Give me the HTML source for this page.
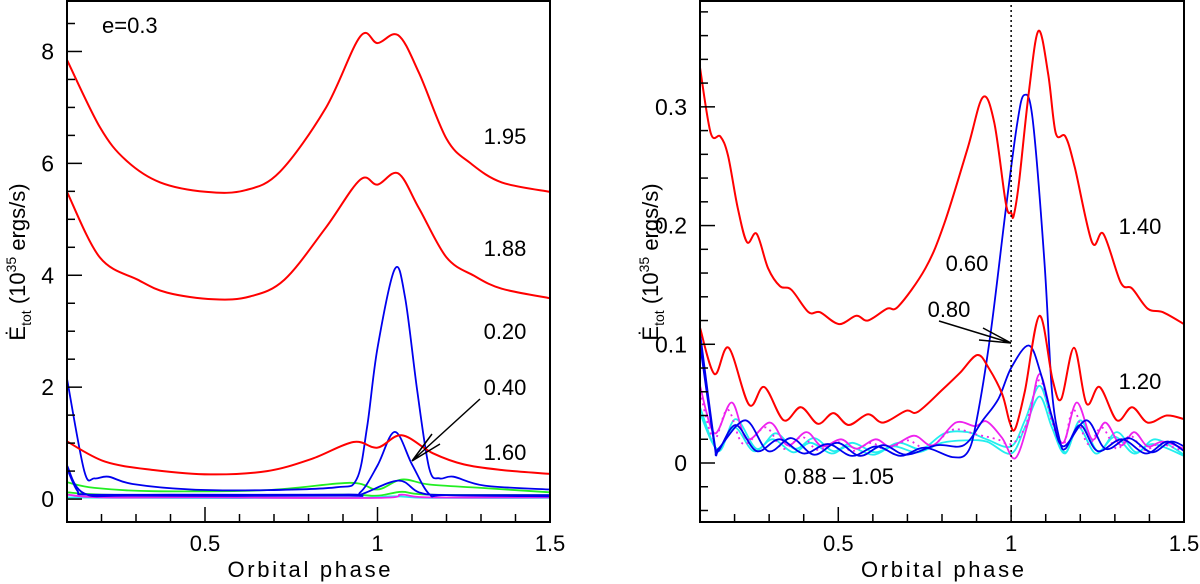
<!DOCTYPE html>
<html><head><meta charset="utf-8"><style>
html,body{margin:0;padding:0;background:#fff;width:1200px;height:584px;overflow:hidden}
svg{display:block;font-family:"Liberation Sans",sans-serif}
</style></head><body>
<svg id="chart" width="1200" height="584" viewBox="0 0 1200 584" xmlns="http://www.w3.org/2000/svg"></svg>
<script>
// ---- Left panel data (phase, Edot) ----
const L_p195 = [[0.1,7.85],[0.195,6.65],[0.27,6.06],[0.37,5.66],[0.505,5.49],[0.617,5.52],[0.717,5.85],[0.85,6.99],[0.95,8.27],[1.0,8.15],[1.06,8.29],[1.12,7.62],[1.2,6.44],[1.27,6.0],[1.36,5.66],[1.5,5.49]];
const L_p188 = [[0.1,5.49],[0.195,4.32],[0.305,3.92],[0.39,3.69],[0.525,3.57],[0.63,3.62],[0.73,3.92],[0.85,4.85],[0.95,5.71],[1.0,5.62],[1.06,5.82],[1.12,5.2],[1.2,4.32],[1.28,3.99],[1.36,3.76],[1.5,3.59]];
const L_p160 = [[0.1,1.03],[0.21,0.67],[0.35,0.52],[0.515,0.44],[0.68,0.5],[0.81,0.72],[0.93,1.02],[1.0,0.92],[1.07,1.14],[1.16,0.82],[1.25,0.62],[1.36,0.52],[1.5,0.45]];
const L_p020 = [[0.1,2.15],[0.15,0.5],[0.18,0.37],[0.22,0.4],[0.29,0.27],[0.46,0.17],[0.68,0.16],[0.88,0.21],[0.94,0.36],[0.97,1.3],[1.0,2.7],[1.05,4.11],[1.08,3.6],[1.115,1.94],[1.15,0.55],[1.18,0.37],[1.22,0.4],[1.31,0.24],[1.5,0.17]];
const L_p040 = [[0.1,0.55],[0.13,0.15],[0.16,0.08],[0.4,0.08],[0.9,0.08],[0.95,0.12],[1.0,0.6],[1.05,1.2],[1.1,0.62],[1.15,0.09],[1.2,0.07],[1.5,0.07]];
const L_pblue3 = [[0.1,0.6],[0.15,0.1],[0.3,0.06],[0.9,0.06],[0.95,0.08],[1.06,0.33],[1.12,0.12],[1.2,0.07],[1.5,0.05]];
const L_green1 = [[0.1,0.3],[0.18,0.2],[0.35,0.14],[0.68,0.16],[0.92,0.29],[1.0,0.17],[1.07,0.35],[1.15,0.26],[1.3,0.2],[1.5,0.12]];
const L_green2 = [[0.1,0.12],[0.2,0.08],[0.5,0.06],[0.9,0.08],[1.0,0.06],[1.07,0.13],[1.15,0.08],[1.5,0.07]];
const L_cyan = [[0.1,0.03],[0.3,0.02],[0.9,0.02],[1.05,0.05],[1.15,0.02],[1.5,0.02]];
const L_magenta = [[0.1,0.08],[0.2,0.03],[0.5,0.03],[1.0,0.02],[1.07,0.08],[1.15,0.03],[1.5,0.03]];
// ---- Right panel data ----
const R_p140 = [[0.1,0.333],[0.131,0.278],[0.159,0.275],[0.181,0.259],[0.209,0.215],[0.236,0.186],[0.264,0.193],[0.297,0.164],[0.331,0.149],[0.364,0.146],[0.414,0.127],[0.447,0.127],[0.502,0.117],[0.552,0.124],[0.586,0.12],[0.641,0.13],[0.674,0.132],[0.752,0.164],[0.807,0.202],[0.874,0.265],[0.918,0.308],[0.951,0.287],[0.985,0.218],[1.0,0.211],[1.007,0.208],[1.023,0.237],[1.051,0.312],[1.079,0.364],[1.107,0.328],[1.129,0.278],[1.157,0.275],[1.184,0.249],[1.234,0.186],[1.267,0.193],[1.317,0.152],[1.35,0.147],[1.395,0.13],[1.439,0.127],[1.5,0.117]];
const R_p120 = [[0.1,0.114],[0.142,0.075],[0.183,0.097],[0.242,0.049],[0.286,0.064],[0.342,0.036],[0.392,0.047],[0.441,0.033],[0.486,0.042],[0.53,0.032],[0.586,0.041],[0.63,0.034],[0.696,0.044],[0.73,0.043],[0.802,0.062],[0.852,0.076],[0.902,0.091],[0.935,0.08],[0.974,0.058],[0.996,0.034],[1.012,0.029],[1.04,0.061],[1.082,0.124],[1.12,0.07],[1.145,0.054],[1.182,0.097],[1.218,0.05],[1.256,0.064],[1.306,0.036],[1.35,0.047],[1.395,0.034],[1.45,0.04],[1.5,0.037]];
const R_p060 = [[0.1,0.11],[0.142,0.017],[0.153,0.01],[0.203,0.032],[0.264,0.01],[0.33,0.02],[0.4,0.008],[0.47,0.016],[0.54,0.006],[0.61,0.014],[0.68,0.006],[0.75,0.013],[0.83,0.005],[0.874,0.009],[0.9,0.036],[0.94,0.108],[0.985,0.215],[1.018,0.287],[1.038,0.31],[1.062,0.29],[1.096,0.171],[1.118,0.061],[1.14,0.02],[1.157,0.012],[1.2,0.032],[1.25,0.01],[1.32,0.02],[1.39,0.008],[1.45,0.018],[1.5,0.01]];
const R_p080 = [[0.1,0.1],[0.142,0.015],[0.153,0.012],[0.231,0.036],[0.297,0.01],[0.364,0.021],[0.43,0.007],[0.497,0.017],[0.563,0.006],[0.63,0.015],[0.696,0.007],[0.785,0.015],[0.863,0.015],[0.918,0.036],[0.963,0.054],[1.0,0.08],[1.051,0.099],[1.085,0.076],[1.118,0.039],[1.151,0.014],[1.218,0.036],[1.273,0.012],[1.34,0.021],[1.406,0.009],[1.461,0.018],[1.5,0.014]];
const R_mag = [[0.1,0.065],[0.142,0.025],[0.192,0.051],[0.236,0.02],[0.303,0.034],[0.353,0.015],[0.408,0.026],[0.453,0.014],[0.508,0.02],[0.552,0.012],[0.608,0.02],[0.652,0.014],[0.719,0.023],[0.774,0.015],[0.84,0.034],[0.896,0.031],[0.929,0.035],[0.974,0.021],[1.012,0.004],[1.051,0.036],[1.082,0.075],[1.118,0.039],[1.151,0.017],[1.19,0.051],[1.234,0.02],[1.273,0.034],[1.317,0.015],[1.356,0.026],[1.395,0.014],[1.439,0.018],[1.5,0.012]];
const R_magdot = [[0.1,0.06],[0.14,0.02],[0.18,0.045],[0.225,0.016],[0.29,0.03],[0.34,0.012],[0.395,0.022],[0.44,0.011],[0.495,0.018],[0.54,0.01],[0.595,0.017],[0.64,0.011],[0.7,0.019],[0.76,0.012],[0.83,0.028],[0.9,0.024],[0.96,0.02],[1.0,0.016],[1.04,0.03],[1.082,0.07],[1.118,0.035],[1.15,0.014],[1.18,0.045],[1.222,0.016],[1.262,0.03],[1.305,0.012],[1.345,0.023],[1.385,0.011],[1.43,0.016],[1.5,0.01]];
const R_cyan1 = [[0.1,0.047],[0.153,0.01],[0.203,0.037],[0.264,0.012],[0.319,0.025],[0.375,0.012],[0.43,0.021],[0.486,0.01],[0.541,0.017],[0.608,0.009],[0.674,0.017],[0.741,0.012],[0.807,0.025],[0.874,0.026],[0.929,0.02],[1.0,0.014],[1.04,0.036],[1.082,0.065],[1.118,0.036],[1.157,0.009],[1.2,0.036],[1.251,0.01],[1.306,0.026],[1.362,0.009],[1.417,0.02],[1.5,0.007]];
const R_cyan2 = [[0.1,0.042],[0.15,0.012],[0.2,0.03],[0.255,0.01],[0.31,0.02],[0.37,0.009],[0.42,0.017],[0.48,0.008],[0.53,0.014],[0.6,0.007],[0.66,0.014],[0.73,0.009],[0.8,0.017],[0.87,0.019],[0.93,0.018],[1.0,0.008],[1.04,0.03],[1.082,0.056],[1.118,0.03],[1.155,0.008],[1.195,0.03],[1.245,0.008],[1.3,0.022],[1.355,0.008],[1.41,0.016],[1.5,0.006]];

const NS='http://www.w3.org/2000/svg';
const svg=document.getElementById('chart');
function mk(tag,attrs,parent){const e=document.createElementNS(NS,tag);for(const k in attrs)e.setAttribute(k,attrs[k]);(parent||svg).appendChild(e);return e;}
function pathD(pts,sx,sy){
  const P=pts.map(p=>[sx(p[0]),sy(p[1])]);
  let d='M'+P[0][0].toFixed(1)+','+P[0][1].toFixed(1);
  for(let i=0;i<P.length-1;i++){
    const p0=P[Math.max(0,i-1)],p1=P[i],p2=P[i+1],p3=P[Math.min(P.length-1,i+2)];
    const c1=[p1[0]+(p2[0]-p0[0])/6,p1[1]+(p2[1]-p0[1])/6];
    const c2=[p2[0]-(p3[0]-p1[0])/6,p2[1]-(p3[1]-p1[1])/6];
    d+=' C'+c1[0].toFixed(1)+','+c1[1].toFixed(1)+' '+c2[0].toFixed(1)+','+c2[1].toFixed(1)+' '+p2[0].toFixed(1)+','+p2[1].toFixed(1);
  }
  return d;
}
function panel(o){
  const g=mk('g',{});
  
  
  const sx=v=>o.x0+(v-0.1)/1.4*(o.x1-o.x0);
  const sy=v=>o.y0+(v-o.vmin)/(o.vmax-o.vmin)*(o.y1-o.y0);
  o.series.forEach(s=>{
    const p=mk('path',{d:pathD(s.data,sx,sy),fill:'none',stroke:s.color,'stroke-width':s.w||1.8,'stroke-linejoin':'round'},g);
    if(s.dash)p.setAttribute('stroke-dasharray',s.dash);
    
    
  });
  const f=mk('rect',{x:o.x0,y:o.y1+1,width:o.x1-o.x0,height:o.y0-o.y1-1,fill:'none',stroke:'#000','stroke-width':2},g);
  
  
  for(let i=1;i<=14;i++){const v=0.1+i*0.1;const X=sx(v);const maj=(i===4||i===9||i===14);
    mk('line',{x1:X,x2:X,y1:o.y0,y2:o.y0-(maj?15:8),stroke:'#000','stroke-width':1.5},g);}
  [['0.5',0.5],['1',1],['1.5',1.5]].forEach(t=>{const e=mk('text',{x:sx(t[1]),y:551,'text-anchor':'middle','font-size':22},g);e.textContent=t[0];
    });
  for(let v=o.tickStart;v<=o.vmax+1e-9;v+=o.minor){const Y=sy(v);
    const maj=Math.abs(v/o.major-Math.round(v/o.major))<1e-6;
    mk('line',{x1:o.x0,x2:o.x0+(maj?15:8),y1:Y,y2:Y,stroke:'#000','stroke-width':1.5},g);}
  o.ylabels.forEach(t=>{const e=mk('text',{x:o.x0-13,y:sy(t[1])+8,'text-anchor':'end','font-size':23},g);e.textContent=t[0];
    });
  const cx=(o.x0+o.x1)/2;
  const xt=mk('text',{x:cx-81,y:577,'font-size':22,textLength:163,lengthAdjust:'spacing'},g);xt.textContent='Orbital phase';
  
  const yt=mk('text',{transform:`translate(${o.x0-42},${o.ytc}) rotate(-90)`,'text-anchor':'middle','font-size':22},g);
  
  yt.innerHTML='Ė<tspan font-size="14" dy="6">tot</tspan><tspan dy="-6">  (10</tspan><tspan font-size="14" dy="-9">35</tspan><tspan dy="9"> ergs/s)</tspan>';
  o.labels.forEach(t=>{const e=mk('text',{x:t[1],y:t[2],'text-anchor':'middle','font-size':22},g);e.textContent=t[0];
    });
  return {sx,sy,g};
}
const RED='#ff0000',BLUE='#0000ee',GREEN='#22ee22',CYAN='#22eeee',MAG='#ee22ee';
panel({name:'left-panel',x0:67,x1:550,y0:522,y1:0,vmin:-0.41,vmax:8.92,tickStart:0,minor:0.5,major:2,ytc:262,
  ylabels:[['0',0],['2',2],['4',4],['6',6],['8',8]],
  labels:[['1.95',505,144],['1.88',505,256],['0.20',505,339],['0.40',505,395],['1.60',505,460]],
  series:[
    {name:'curve-1.95',data:L_p195,color:RED,w:2},
    {name:'curve-1.88',data:L_p188,color:RED,w:2},
    {name:'curve-green-1',data:L_green1,color:GREEN},
    {name:'curve-green-2',data:L_green2,color:GREEN},
    {name:'curve-cyan',data:L_cyan,color:CYAN},
    {name:'curve-magenta',data:L_magenta,color:MAG},
    {name:'curve-blue-3',data:L_pblue3,color:BLUE},
    {name:'curve-0.40',data:L_p040,color:BLUE},
    {name:'curve-0.20',data:L_p020,color:BLUE},
    {name:'curve-1.60',data:L_p160,color:RED,w:2}
  ]});
const e03=mk('text',{x:102,y:33,'font-size':22});e03.textContent='e=0.3';

const a1=mk('path',{d:'M480,399 L412,461 M412,461 L432,434 M412,461 L440,444',stroke:'#000','stroke-width':1.5,fill:'none'});


const R=panel({name:'right-panel',x0:700,x1:1184,y0:522,y1:0,vmin:-0.0497,vmax:0.39,tickStart:-0.04,minor:0.02,major:0.1,ytc:262,
  ylabels:[['0',0],['0.1',0.1],['0.2',0.2],['0.3',0.3]],
  labels:[['1.40',1140,234],['1.20',1140,389],['0.60',967,271],['0.80',949,317],['0.88 – 1.05',839,484]],
  series:[
    {name:'curve-cyan-1',data:R_cyan1,color:CYAN},
    {name:'curve-cyan-2',data:R_cyan2,color:CYAN},
    {name:'curve-magenta-dotted',data:R_magdot,color:MAG,dash:'2,4'},
    {name:'curve-magenta',data:R_mag,color:MAG},
    {name:'curve-0.80',data:R_p080,color:BLUE},
    {name:'curve-0.60',data:R_p060,color:BLUE},
    {name:'curve-1.20',data:R_p120,color:RED,w:2},
    {name:'curve-1.40',data:R_p140,color:RED,w:2}
  ]});
const vl=mk('line',{x1:R.sx(1),x2:R.sx(1),y1:0,y2:522,stroke:'#000','stroke-width':1.5,'stroke-dasharray':'2,3'});

const a2=mk('path',{d:'M939,321 L1011,343 M1011,343 L983,328 M1011,343 L979,340',stroke:'#000','stroke-width':1.5,fill:'none'});

</script>
</body></html>
